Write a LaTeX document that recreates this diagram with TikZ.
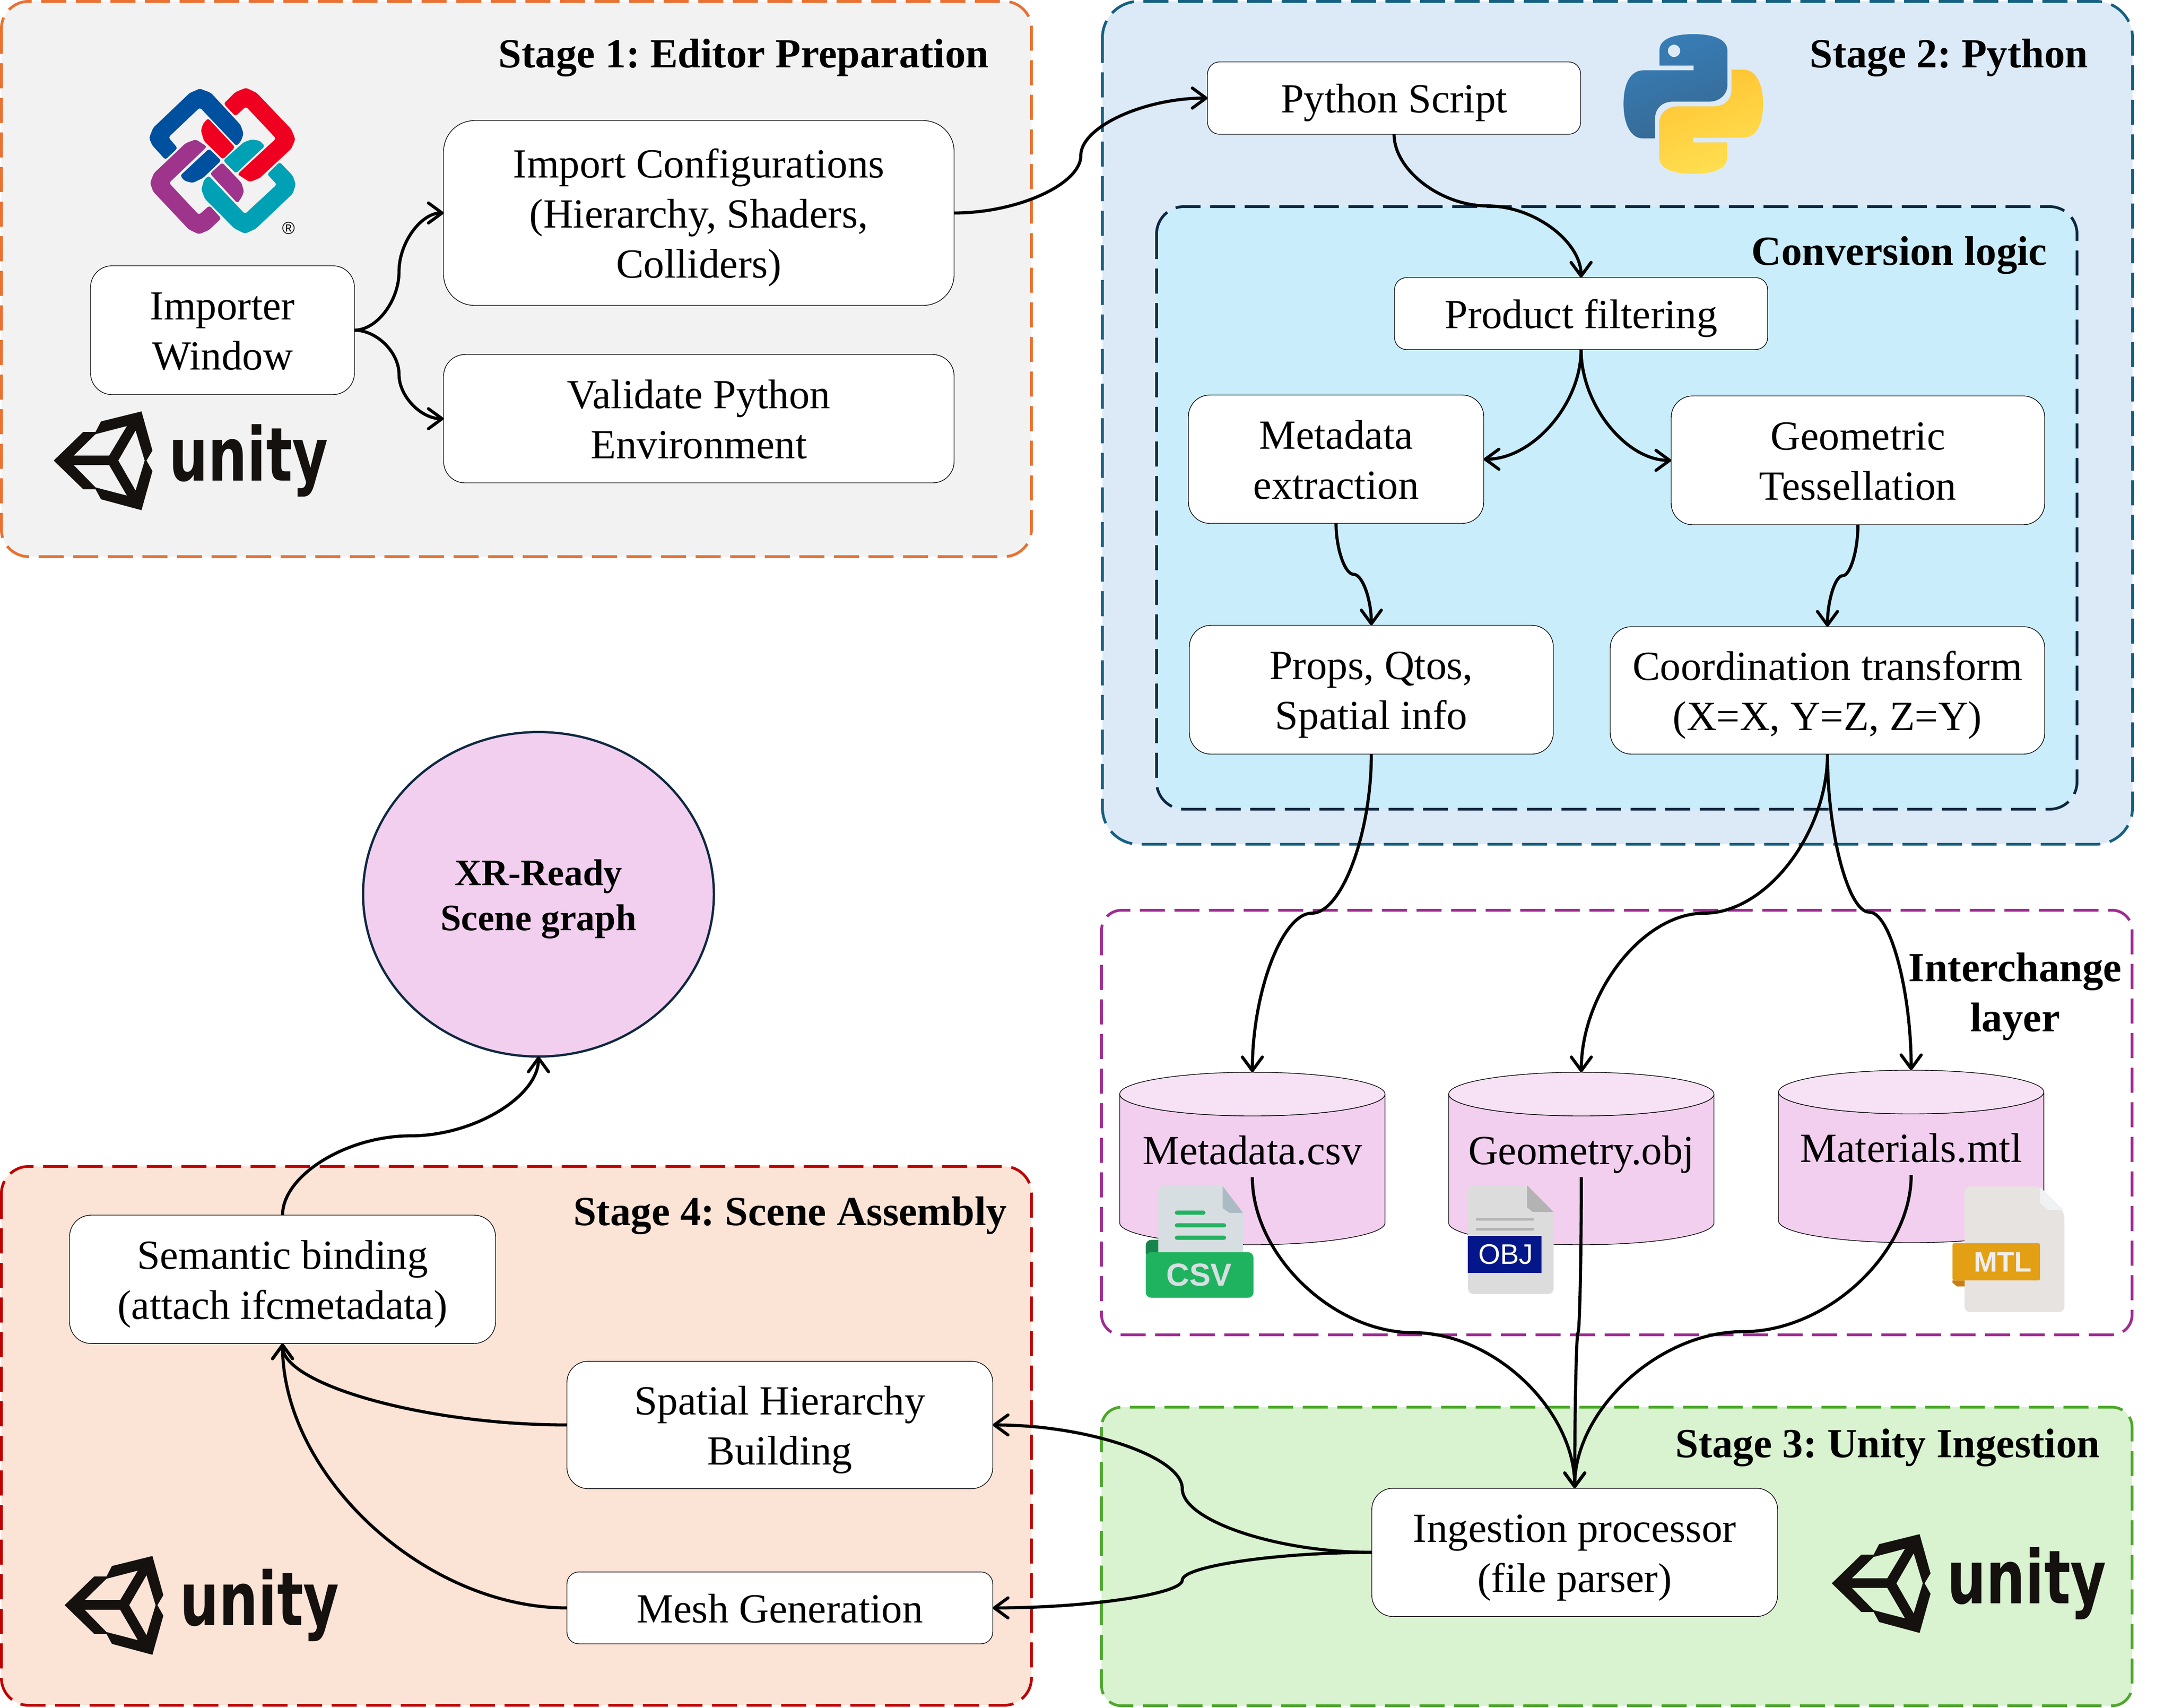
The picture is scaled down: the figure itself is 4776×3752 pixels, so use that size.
\documentclass[tikz,border=0pt]{standalone}
\usepackage{fontspec}
\setmainfont{Liberation Serif}
\newfontfamily\logosans{Liberation Sans}
\newfontfamily\logoheavy{DejaVu Sans}
\usetikzlibrary{arrows.meta,calc,shapes.geometric}
\definecolor{stAfill}{HTML}{F2F2F2}\definecolor{stAline}{HTML}{E97132}
\definecolor{stBfill}{HTML}{DCEAF7}\definecolor{stBline}{HTML}{156082}
\definecolor{convfill}{HTML}{CAEDFB}\definecolor{convline}{HTML}{0E2841}
\definecolor{ichline}{HTML}{A02B93}
\definecolor{stCfill}{HTML}{D9F2D0}\definecolor{stCline}{HTML}{4EA72E}
\definecolor{stDfill}{HTML}{FBE3D6}\definecolor{stDline}{HTML}{C00000}
\definecolor{dbbody}{HTML}{F2CFEE}\definecolor{dbtop}{HTML}{F6E2F4}
\definecolor{unityk}{HTML}{14110F}
\definecolor{ifcblue}{HTML}{0050A0}\definecolor{ifcred}{HTML}{F00020}
\definecolor{ifcpurple}{HTML}{9E348B}\definecolor{ifcteal}{HTML}{00A1B4}
\definecolor{pyA}{HTML}{387EB8}\definecolor{pyB}{HTML}{366994}
\definecolor{pyC}{HTML}{FFE052}\definecolor{pyD}{HTML}{FFC331}
\definecolor{csvpage}{RGB}{215,222,225}\definecolor{csvfold}{RGB}{171,187,196}
\definecolor{csvgreen}{RGB}{32,179,95}\definecolor{csvdark}{RGB}{23,133,74}
\definecolor{objpage}{RGB}{220,220,220}\definecolor{objgrey}{RGB}{179,179,179}\definecolor{objband}{RGB}{3,23,138}
\definecolor{mtlpage}{RGB}{230,227,225}\definecolor{mtlfold}{RGB}{239,241,243}
\definecolor{mtlband}{RGB}{227,160,21}\definecolor{mtltail}{RGB}{201,127,16}\definecolor{mtltext}{RGB}{240,238,236}
\tikzset{
  stagebox/.style={line width=1.5pt,dash pattern=on 13.75pt off 5.25pt},
  bodyfont/.style={font=\fontsize{22.75}{27.5}\selectfont},
  titlefont/.style={font=\fontsize{22.75}{27.5}\selectfont\bfseries},
  procbox/.style={draw=black,fill=white,line width=.35pt,inner sep=0pt,outer sep=0pt,align=center,bodyfont},
  stagetitle/.style={titlefont,inner sep=0pt,anchor=base east},
  conn/.style={draw=black,line width=1.7pt,-{Straight Barb[round,length=7.5pt,width=11pt,line width=1.7pt]}},
  dbbox/.style={inner sep=0pt,outer sep=0pt,minimum width=145.75pt,minimum height=94.75pt,bodyfont},
}
% text block with uniform line boxes, lowered inside its node
\newcommand\lowtext[1]{\raisebox{-2.5pt}[\height][\depth]{\begin{tabular}{@{}c@{}}#1\end{tabular}}}
% node with a rounded frame, from its corners in pixels
\newcommand\bx[6]{%
  \pgfmathsetmacro\bxw{(#4-#2)*.25}\pgfmathsetmacro\bxh{(#5-#3)*.25}\pgfmathsetmacro\bxr{\bxh/6}%
  \pgfmathsetmacro\bxx{(#2+#4)/2}\pgfmathsetmacro\bxy{(#3+#5)/2}%
  \node[procbox,rounded corners=\bxr pt,minimum width=\bxw pt,minimum height=\bxh pt] (#1) at (\bxx,\bxy) {\lowtext{#6}};}
% curved connectors of the drawing: S with horizontal or vertical ends, quarter curves
\newcommand\hconn[2]{\draw[conn] let \p1=(#1),\p2=(#2),\n1={\x2-\x1},\n2={\y2-\y1} in
  (\p1) .. controls ({\x1+.25*\n1},\y1) and ({\x1+.5*\n1},{\y1+.25*\n2}) .. ({\x1+.5*\n1},{\y1+.5*\n2})
  .. controls ({\x1+.5*\n1},{\y1+.75*\n2}) and ({\x1+.75*\n1},\y2) .. (\p2);}
\newcommand\vconn[2]{\draw[conn] let \p1=(#1),\p2=(#2),\n1={\x2-\x1},\n2={\y2-\y1} in
  (\p1) .. controls (\x1,{\y1+.25*\n2}) and ({\x1+.25*\n1},{\y1+.5*\n2}) .. ({\x1+.5*\n1},{\y1+.5*\n2})
  .. controls ({\x1+.75*\n1},{\y1+.5*\n2}) and (\x2,{\y1+.75*\n2}) .. (\p2);}
\newcommand\qvconn[2]{\draw[conn] let \p1=(#1),\p2=(#2),\n1={\x2-\x1},\n2={\y2-\y1} in
  (\p1) .. controls (\x1,{\y1+.5*\n2}) and ({\x1+.5*\n1},\y2) .. (\p2);}
\newcommand\qhconn[2]{\draw[conn] let \p1=(#1),\p2=(#2),\n1={\x2-\x1},\n2={\y2-\y1} in
  (\p1) .. controls ({\x1+.5*\n1},\y1) and (\x2,{\y1+.5*\n2}) .. (\p2);}
% cylinder
\newcommand\dbcyl[5]{\begin{scope}[shift={(#2,#3)}]
  \path[draw=black,line width=.35pt,fill=dbbody] (-291.5,-141.5) -- (-291.5,141.5)
     arc[start angle=180,end angle=0,x radius=291.5,y radius=48] -- (291.5,-141.5)
     arc[start angle=0,end angle=180,x radius=291.5,y radius=48] -- cycle;
  \path[draw=black,line width=.35pt,fill=dbtop] (0,-141.5) ellipse[x radius=291.5,y radius=48];
  \node[dbbox] (#1) at (0,0) {\smash{\raisebox{#4}{#5}}};
  \coordinate (#1out) at (0,41);
\end{scope}}
% Unity mark and word
\newcommand\unitylogo[3]{\begin{scope}[shift={(#1,#2)}]
  \fill[unityk,even odd rule] (0,0)--(65,-63)--(92,-63)--(104,-86)--(193,-108)--(217,-22)--(204,0)--(217,23)--(193,109)--(104,85)--(92,63)--(65,63)--cycle
   (44,-11)--(92,-58)--(161,-76)--(122,-11)--cycle
   (44,10)--(122,10)--(161,77)--(92,59)--cycle
   (142,0)--(180,-66)--(200,0)--(180,66)--cycle;
  \node[inner sep=0pt,anchor=base west,text=unityk] (#3) at (253,44) {\logoheavy\bfseries\fontsize{40.8}{50}\selectfont\scalebox{.74}[1]{unity}};
\end{scope}}
\newcommand\pypath{(292,342)--(517,342)--(517,373)--(190,373) .. controls (100,373) and (55,460) .. (55,595) .. controls (55,740) and (110,822) .. (180,822)--(263,822)--(263,690) .. controls (263,625) and (310,580) .. (380,580)--(620,580) .. controls (690,580) and (740,530) .. (740,470)--(740,245) .. controls (740,165) and (640,135) .. (515,135) .. controls (390,135) and (292,165) .. (292,240)--cycle}
\begin{document}
\frenchspacing
\begin{tikzpicture}[x=.25pt,y=-.25pt]
\useasboundingbox (0,0) rectangle (4776,3752);
\fill[white] (0,0) rectangle (4776,3752);
% stages
\path[stagebox,draw=stAline,fill=stAfill,rounded corners=15pt] (3,3) rectangle (2267,1223);
\path[stagebox,draw=stBline,fill=stBfill,rounded corners=20pt] (2423,3) rectangle (4687,1855);
\path[stagebox,draw=convline,fill=convfill,rounded corners=15pt] (2542,454) rectangle (4565,1778);
\path[stagebox,draw=ichline,rounded corners=11pt] (2421,2000) rectangle (4686,2933);
\path[stagebox,draw=stCline,fill=stCfill,rounded corners=11pt] (2421,3092) rectangle (4686,3748);
\path[stagebox,draw=stDline,fill=stDfill,rounded corners=15pt] (3,2563) rectangle (2267,3747);
\node[stagetitle] (t1) at (2174,148) {Stage 1: Editor Preparation};
\node[stagetitle] (t2) at (4590,148) {Stage 2: Python};
\node[stagetitle] (t2b) at (4500,582) {Conversion logic};
\node[titlefont,inner sep=0pt,align=center] (t5) at (4429,2190) {Interchange\\layer};
\node[stagetitle] (t3) at (4616,3202) {Stage 3: Unity Ingestion};
\node[stagetitle] (t4) at (2214,2692) {Stage 4: Scene Assembly};
% IFC logo
\begin{scope}[shift={(80,150)},xscale=.4464,yscale=.6378,rounded corners=1.2pt]
\fill[ifcblue] (635,315)--(695,275)--(650,238)--(805,135)--(985,268)--(1008,250)--(1020,225)--(1005,195)--(860,85)--(805,70)--(755,85)--(575,205)--(555,240)--(570,265)--cycle;
\fill[ifcblue] (708,370)--(850,277)--(910,318)--(820,378)--(770,395)--(730,388)--cycle;
\fill[ifcred] (922,122)--(980,165)--(1032,132)--(1180,242)--(990,365)--(1050,392)--(1100,378)--(1255,277)--(1275,245)--(1255,210)--(1085,85)--(1032,67)--(980,82)--cycle;
\fill[ifcred] (845,172)--(978,272)--(918,314)--(825,250)--(810,215)--(820,192)--cycle;
\fill[ifcpurple] (840,270)--(653,395)--(800,505)--(852,473)--(910,517)--(850,557)--(800,572)--(750,555)--(575,425)--(560,395)--(578,362)--(735,258)--(785,245)--cycle;
\fill[ifcpurple] (855,363)--(915,325)--(1010,395)--(1022,425)--(1010,445)--(990,465)--cycle;
\fill[ifcteal] (848,370)--(1027,502)--(1184,400)--(1136,365)--(1198,323)--(1262,370)--(1277,400)--(1262,432)--(1080,553)--(1027,570)--(975,552)--(830,450)--(812,418)--(825,385)--cycle;
\fill[ifcteal] (920,318)--(1020,255)--(1060,245)--(1100,250)--(1125,268)--(982,362)--cycle;
\end{scope}
\node[inner sep=0pt] (ifcr) at (634,501) {\logosans\fontsize{9.5}{10}\selectfont ®};
% Python logo
\begin{scope}[shift={(3550,30)},x=.08333pt,y=-.08333pt]
\shade[left color=pyA,right color=pyB,shading angle=20] \pypath;
\begin{scope}[shift={(1030,1191)},xscale=-1,yscale=-1]
\shade[left color=pyD,right color=pyC,shading angle=20] \pypath;
\fill[stBfill] (642,946) circle[radius=40];
\end{scope}
\fill[stBfill] (388,245) circle[radius=40];
\end{scope}
% Unity logos
\unitylogo{118}{1012}{unityA}
\unitylogo{4026}{3479}{unityC}
\unitylogo{142}{3527}{unityD}
% process nodes
\bx{importer}{199}{584}{779}{867}{Importer\\Window}
\bx{config}{975}{265}{2097}{671}{Import Configurations\\(Hierarchy, Shaders,\\Colliders)}
\bx{validate}{975}{779}{2097}{1061}{Validate Python\\Environment}
\bx{script}{2654}{136}{3474}{295}{Python Script}
\bx{filter}{3065}{610}{3885}{768}{Product filtering}
\bx{meta}{2612}{868}{3261}{1150}{Metadata\\extraction}
\bx{geom}{3673}{870}{4494}{1153}{Geometric\\Tessellation}
\bx{props}{2614}{1374}{3414}{1657}{Props, Qtos,\\Spatial info}
\bx{coord}{3539}{1377}{4494}{1657}{Coordination transform\\(X=X, Y=Z, Z=Y)}
\bx{ingest}{3015}{3270}{3907}{3552}{Ingestion processor\\(file parser)}
\bx{semantic}{153}{2670}{1089}{2952}{Semantic binding\\(attach ifcmetadata)}
\bx{spatial}{1246}{2991}{2182}{3271}{Spatial Hierarchy\\Building}
\bx{mesh}{1246}{3454}{2182}{3612}{Mesh Generation}
\node[ellipse,draw=convline,fill=dbbody,line width=1.25pt,inner sep=0pt,outer sep=0pt,minimum width=192.75pt,minimum height=178.25pt,align=center,font=\fontsize{20.5}{24.75}\selectfont\bfseries] (xr) at (1183.5,1965) {\lowtext{XR-Ready\\Scene graph}};
% cylinders
\dbcyl{csv}{2752.5}{2545.5}{-3.25pt}{Metadata.csv}
\dbcyl{obj}{3475.5}{2545.5}{-3.25pt}{Geometry.obj}
\dbcyl{mtl}{4200.5}{2541}{-3pt}{Materials.mtl}
% CSV file icon
\begin{scope}[shift={(2450,2350)},xscale=.638,yscale=.4145]
\fill[csvdark,rounded corners=3pt] (107,1000)--(107,903)--(170,903)--(170,1000)--cycle;
\fill[csvpage] (150,980)--(150,635)--(165,618)--(372,618)--(442,760)--(442,980)--cycle;
\fill[csvfold] (372,618)--(442,760)--(395,760)--(372,735)--cycle;
\fill[csvgreen,rounded corners=3pt] (107,968) rectangle (478,1210);
\foreach \ya/\xb in {748/313,815/384,881/384}{
  \fill[csvgreen,rounded corners=1.2pt] (207,\ya) rectangle (\xb,\ya+22);}
\node[inner sep=0pt,text=csvpage] (csvicon) at (291,1090) {\logosans\bfseries\fontsize{17.5}{20}\selectfont CSV};
% OBJ file icon
\fill[objpage,rounded corners=3pt] (1217,1190)--(1217,613)--(1420,613)--(1512,755)--(1512,1190)--cycle;
\fill[objgrey] (1420,613)--(1512,755)--(1440,755)--(1420,730)--cycle;
\fill[objgrey] (1245,788) rectangle (1443,802);
\fill[objgrey] (1245,840) rectangle (1443,854);
\fill[objband] (1217,884)--(1470,884)--(1470,1078)--(1217,1078)--cycle;
\node[inner sep=0pt,text=white] (objicon) at (1347,980) {\logosans\fontsize{15.5}{18}\selectfont OBJ};
\end{scope}
% MTL file icon
\begin{scope}[shift={(3900,2350)},xscale=.542,yscale=.4145]
\fill[mtlpage,rounded corners=3pt] (771,1286)--(771,620)--(1075,620)--(1176,760)--(1176,1286)--cycle;
\fill[mtlfold] (1075,620)--(1172,745)--(1110,745)--(1078,710)--cycle;
\fill[mtltail] (722,1118)--(771,1118)--(771,1150)--(740,1150)--(722,1130)--cycle;
\fill[mtlband,rounded corners=1pt] (722,920) rectangle (1077,1118);
\node[inner sep=0pt,text=mtltext] (mtlicon) at (926,1020) {\logosans\bfseries\fontsize{15.5}{18}\selectfont MTL};
\end{scope}
% connectors
\hconn{importer.east}{config.west}
\hconn{importer.east}{validate.west}
\hconn{config.east}{script.west}
\vconn{script.south}{filter.north}
\qvconn{filter.south}{meta.east}
\qvconn{filter.south}{geom.west}
\vconn{meta.south}{props.north}
\vconn{geom.south}{coord.north}
\vconn{props.south}{csv.north}
\vconn{coord.south}{obj.north}
\vconn{coord.south}{mtl.north}
\vconn{csvout}{ingest.north}
\vconn{objout}{ingest.north}
\vconn{mtlout}{ingest.north}
\hconn{ingest.west}{spatial.east}
\hconn{ingest.west}{mesh.east}
\qhconn{spatial.west}{semantic.south}
\qhconn{mesh.west}{semantic.south}
\vconn{semantic.north}{xr.south}
\end{tikzpicture}
\end{document}
